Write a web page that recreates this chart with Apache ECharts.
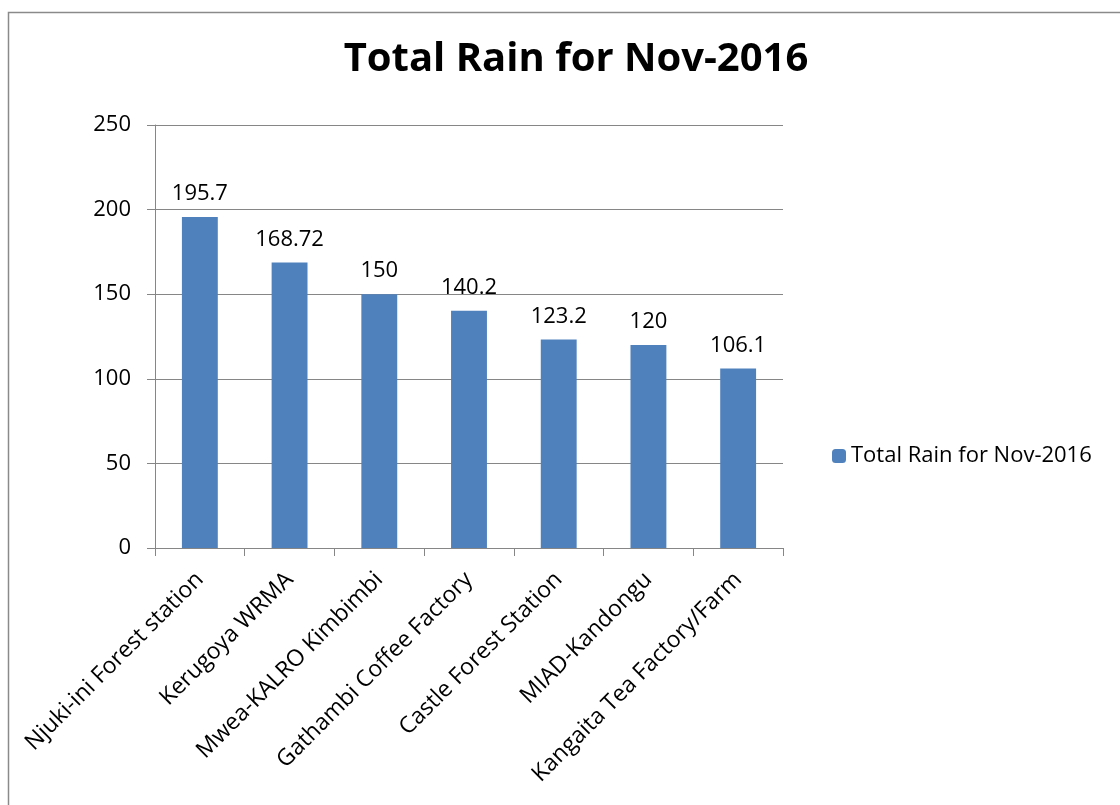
<!DOCTYPE html>
<html>
<head>
<meta charset="utf-8">
<script src="https://cdn.jsdelivr.net/npm/echarts@6/dist/echarts.min.js"></script>
<style>
  html, body { margin: 0; padding: 0; background: #fff; }
  #chart { width: 1120px; height: 805px; }
</style>
</head>
<body>
<div id="chart"></div>
<script>
// stations and rain totals (mm)
var stations = [
    'Njuki-ini Forest station',
    'Kerugoya WRMA',
    'Mwea-KALRO Kimbimbi',
    'Gathambi Coffee Factory',
    'Castle Forest Station',
    'MIAD-Kandongu',
    'Kangaita Tea Factory/Farm'
];
var rainTotals = [195.7, 168.72, 150, 140.2, 123.2, 120, 106.1];
var seriesName = 'Total Rain for Nov-2016';

var font = '"Open Sans", "DejaVu Sans", sans-serif';

var chart = echarts.init(document.getElementById('chart'));
chart.setOption({
    animation: false,
    backgroundColor: '#fff',
    // outer chart-area frame
    graphic: [{
        type: 'rect',
        shape: { x: 8.5, y: 12.5, width: 1200, height: 900 },
        style: { fill: 'none', stroke: '#8a8a8a', lineWidth: 1.5 },
        silent: true
    }],
    title: {
        text: seriesName,
        left: 571,
        textAlign: 'center',
        top: 35,
        textStyle: { fontFamily: font, fontWeight: 'bold', fontSize: 40, color: '#000' }
    },
    legend: {
        data: [seriesName],
        left: 827,
        top: 440,
        itemWidth: 14,
        itemHeight: 14,
        itemGap: 8,
        textStyle: { fontFamily: font, fontSize: 22, color: '#000' }
    },
    grid: { left: 155, right: 337, top: 125, bottom: 257, containLabel: false },
    xAxis: {
        type: 'category',
        data: stations,
        axisLine: { lineStyle: { color: '#868686', width: 1 } },
        axisTick: { show: true, length: 8, alignWithLabel: false, lineStyle: { color: '#868686' } },
        axisLabel: {
            interval: 0,
            rotate: 45,
            margin: 28,
            fontFamily: font,
            fontSize: 23,
            color: '#000'
        }
    },
    yAxis: {
        type: 'value',
        min: 0,
        max: 250,
        interval: 50,
        axisLine: { show: true, lineStyle: { color: '#868686', width: 1 } },
        axisTick: { show: true, length: 8, lineStyle: { color: '#868686' } },
        splitLine: { lineStyle: { color: '#868686', width: 1 } },
        axisLabel: { margin: 24, fontFamily: font, fontSize: 22, color: '#000' }
    },
    series: [{
        name: seriesName,
        type: 'bar',
        data: rainTotals,
        barCategoryGap: '60%',
        itemStyle: { color: '#4f81bd' },
        label: {
            show: true,
            position: 'top',
            distance: 12,
            fontFamily: font,
            fontSize: 22,
            color: '#000'
        }
    }]
});
</script>
</body>
</html>
